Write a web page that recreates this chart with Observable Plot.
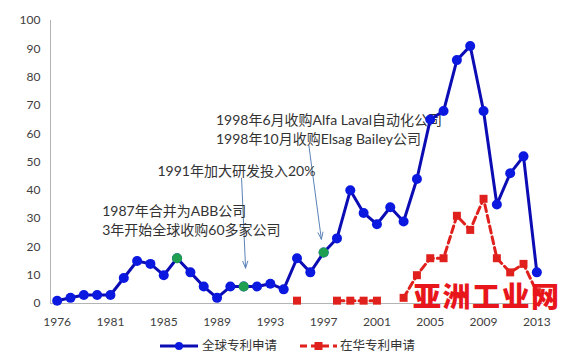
<!DOCTYPE html>
<html>
<head>
<meta charset="utf-8">
<script src="https://cdn.jsdelivr.net/npm/d3@7"></script>
<script src="https://cdn.jsdelivr.net/npm/@observablehq/plot@0.6"></script>
<style>
  html, body { margin: 0; padding: 0; background: #fff; overflow: hidden; }
  #wrap { position: relative; width: 573px; height: 356px; font-family: Lato, "Noto Sans CJK SC", sans-serif; }
  #chart { position: absolute; left: 0; top: 0; }
  .leg { position: absolute; font-size: 12.5px; color: #333; line-height: 14px; white-space: nowrap; }
  #wm { position: absolute; left: 413px; top: 279px; font-family: "Noto Sans CJK SC", sans-serif; font-weight: 900;
        font-size: 28px; color: #e8161b; letter-spacing: 1.5px; white-space: nowrap; line-height: 32px; }
</style>
</head>
<body>
<div id="wrap">
  <div id="chart"></div>
  <div id="legend"></div>
  <div id="wm">亚洲工业网</div>
</div>
<script>
// Categories (the chart's category axis)
const categories = [1976, 1977, 1978, 1979,
  1981, 1982, 1983, 1984, 1985, 1986, 1987, 1988, 1989, 1990, 1991, 1992, 1993,
  1994, 1995, 1996, 1997, 1998, 1999, 2000, 2001, 2002, 2003, 2004, 2005, 2006,
  2007, 2008, 2009, 2010, 2011, 2012, 2013];

// 全球专利申请
const globalApps = [1, 2, 3, 3, 3, 9, 15, 14, 10, 16, 11, 6, 2, 6, 6, 6, 7, 5, 16, 11, 18,
  23, 40, 32, 28, 34, 29, 44, 65, 68, 86, 91, 68, 35, 46, 52, 11];

// 在华专利申请 (null = no value)
const chinaApps = [null, null, null, null, null, null, null, null, null, null, null, null, null,
  null, null, null, null, null, 1, null, null, 1, 1, 1, 1, null, 2, 10, 16, 16, 31, 26, 37,
  16, 11, 14, 4];

// highlighted (green) points
const highlightYears = [1986, 1991, 1997];

// tick labels
const xTickLabels = [1976, 1981, 1985, 1989, 1993, 1997, 2001, 2005, 2009, 2013];
const yTicks = [0, 10, 20, 30, 40, 50, 60, 70, 80, 90, 100];

const seriesNames = ["全球专利申请", "在华专利申请"];

// annotations in data space (category index, value)
const noteTexts = ["1987年合并为ABB公司", "3年开始全球收购60多家公司", "1991年加大研发投入20%",
  "1998年6月收购Alfa Laval自动化公司", "1998年10月收购Elsag Bailey公司"];
const noteX = [3.38, 3.38, 7.53, 11.92, 11.92];
const noteY = [32.6, 25.9, 46.7, 64.8, 58.1];
const arrowFrom = [[13.84, 44.3], [18.89, 55.9]];
const arrowTo = [[14.14, 12.5], [19.83, 22.7]];

const blueLine = "#0c0cb4", blueDot = "#0a18e0", green = "#1ea050", red = "#e0201c";

const idx = categories.map((c, i) => i);
const gData = idx.map(i => ({i, v: globalApps[i], year: categories[i]}));
const cData = idx.map(i => ({i, v: chinaApps[i] == null ? NaN : chinaApps[i]}));
const hData = gData.filter(d => highlightYears.includes(d.year));
const notes = noteTexts.map((t, k) => ({t, x: noteX[k], y: noteY[k]}));
const arrows = arrowFrom.map((f, k) => ({x1: f[0], y1: f[1], x2: arrowTo[k][0], y2: arrowTo[k][1]}));
const tickIdx = xTickLabels.map(y => categories.indexOf(y));

const chart = Plot.plot({
  width: 573,
  height: 336,
  marginLeft: 50,
  marginRight: 30,
  marginTop: 20,
  marginBottom: 33,
  style: {fontFamily: 'Lato, "Noto Sans CJK SC", sans-serif', fontSize: "12px", color: "#404040", background: "#fff"},
  x: {type: "linear", domain: [-0.5, categories.length - 0.5]},
  y: {domain: [0, 100]},
  marks: [
    Plot.ruleX([-0.5], {stroke: "#b4b4b4", strokeWidth: 1}),
    Plot.ruleY([0], {stroke: "#b4b4b4", strokeWidth: 1}),
    Plot.axisY({ticks: yTicks, tickSize: 0, tickPadding: 10, label: null, fontSize: 12}),
    Plot.axisX({ticks: tickIdx, tickFormat: i => String(categories[i]), tickSize: 0, tickPadding: 14, label: null, fontSize: 12}),
    Plot.arrow(arrows, {x1: "x1", y1: "y1", x2: "x2", y2: "y2", stroke: "#5b82b8", strokeWidth: 1, headLength: 11, headAngle: 40}),
    Plot.text(notes, {x: "x", y: "y", text: "t", textAnchor: "start", fontSize: 14, fill: "#333"}),
    Plot.line(gData, {x: "i", y: "v", stroke: blueLine, strokeWidth: 3}),
    Plot.dot(gData, {x: "i", y: "v", r: 5, fill: blueDot}),
    Plot.dot(hData, {x: "i", y: "v", r: 5, fill: green}),
    Plot.line(cData, {x: "i", y: "v", stroke: red, strokeWidth: 3, strokeDasharray: "7,4"}),
    Plot.dot(cData, {x: "i", y: "v", r: 4.5, symbol: "square", fill: red})
  ]
});
document.getElementById("chart").appendChild(chart);

// legend
const leg = document.getElementById("legend");
leg.innerHTML =
  `<svg class="leg" style="left:160px;top:339px" width="38" height="14">
     <line x1="0" y1="7" x2="38" y2="7" stroke="${blueLine}" stroke-width="3"/>
     <circle cx="19" cy="7" r="4" fill="${blueDot}"/>
   </svg>
   <div class="leg" style="left:202px;top:339px">${seriesNames[0]}</div>
   <svg class="leg" style="left:300px;top:339px" width="37" height="14">
     <line x1="0" y1="7" x2="37" y2="7" stroke="${red}" stroke-width="3" stroke-dasharray="7,4"/>
     <rect x="14.5" y="3" width="8" height="8" fill="${red}"/>
   </svg>
   <div class="leg" style="left:340px;top:339px">${seriesNames[1]}</div>`;
</script>
</body>
</html>
